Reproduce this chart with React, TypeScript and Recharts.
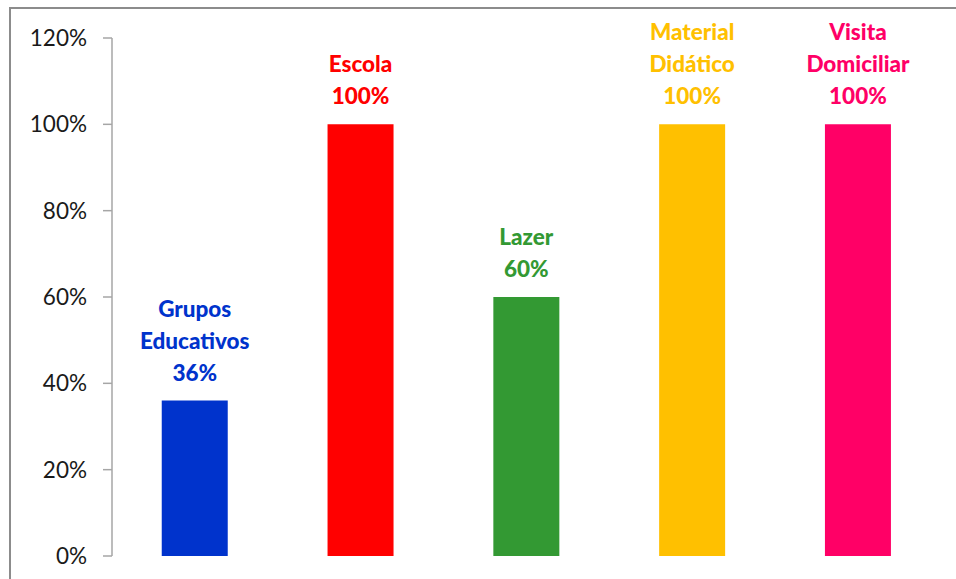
import { BarChart, Bar, XAxis, YAxis, Cell, LabelList } from 'recharts';

const categories = ['Grupos Educativos', 'Escola', 'Lazer', 'Material Didático', 'Visita Domiciliar'];
const values = [0.36, 1.0, 0.6, 1.0, 1.0];
const colors = ['#0033CC', '#FF0000', '#339933', '#FFC000', '#FF0066'];
const yTicks = [0, 0.2, 0.4, 0.6, 0.8, 1.0, 1.2];

const data = categories.map((name, i) => ({ name, value: values[i], color: colors[i] }));

const pct = (v: number) => `${Math.round(v * 100)}%`;

function BarLabel(props: any) {
  const { x, y, width, index } = props;
  const entry = data[index];
  const lines = [...entry.name.split(' '), pct(entry.value)];
  const cx = x + width / 2;
  const lineH = 32;
  return (
    <text
      x={cx}
      textAnchor="middle"
      fill={entry.color}
      fontWeight={900}
      fontSize={22.5}
      fontFamily="Lato, sans-serif"
    >
      {lines.map((l, k) => (
        <tspan key={k} x={cx} y={y - 20 - (lines.length - 1 - k) * lineH}>
          {l}
        </tspan>
      ))}
    </text>
  );
}

export default function App() {
  return (
    <div style={{ position: 'absolute', left: 0, top: 0, width: 956, height: 579, overflow: 'hidden', background: '#fff' }}>
      <div
        style={{
          position: 'absolute',
          left: 9,
          top: 7,
          width: 1000,
          height: 650,
          border: '2px solid #8c8c8c',
          boxSizing: 'border-box',
        }}
      />
      <div style={{ position: 'absolute', left: 0, top: 0 }}>
        <BarChart
          width={956}
          height={579}
          data={data}
          margin={{ top: 38, right: 15, bottom: 23, left: 0 }}
          barCategoryGap="30%"
        >
          <XAxis dataKey="name" hide />
          <YAxis
            width={112}
            domain={[0, 1.2]}
            ticks={yTicks}
            tickFormatter={pct}
            tickSize={9}
            tickMargin={16}
            axisLine={{ stroke: '#a6a6a6', strokeWidth: 1.5 }}
            tickLine={{ stroke: '#a6a6a6', strokeWidth: 1.5 }}
            tick={{ fill: '#1a1a1a', fontSize: 22.5, fontFamily: 'Lato, sans-serif' }}
          />
          <Bar dataKey="value" isAnimationActive={false}>
            {data.map((d, i) => (
              <Cell key={`cell-${i}`} fill={d.color} />
            ))}
            <LabelList dataKey="value" content={<BarLabel />} />
          </Bar>
        </BarChart>
      </div>
    </div>
  );
}
